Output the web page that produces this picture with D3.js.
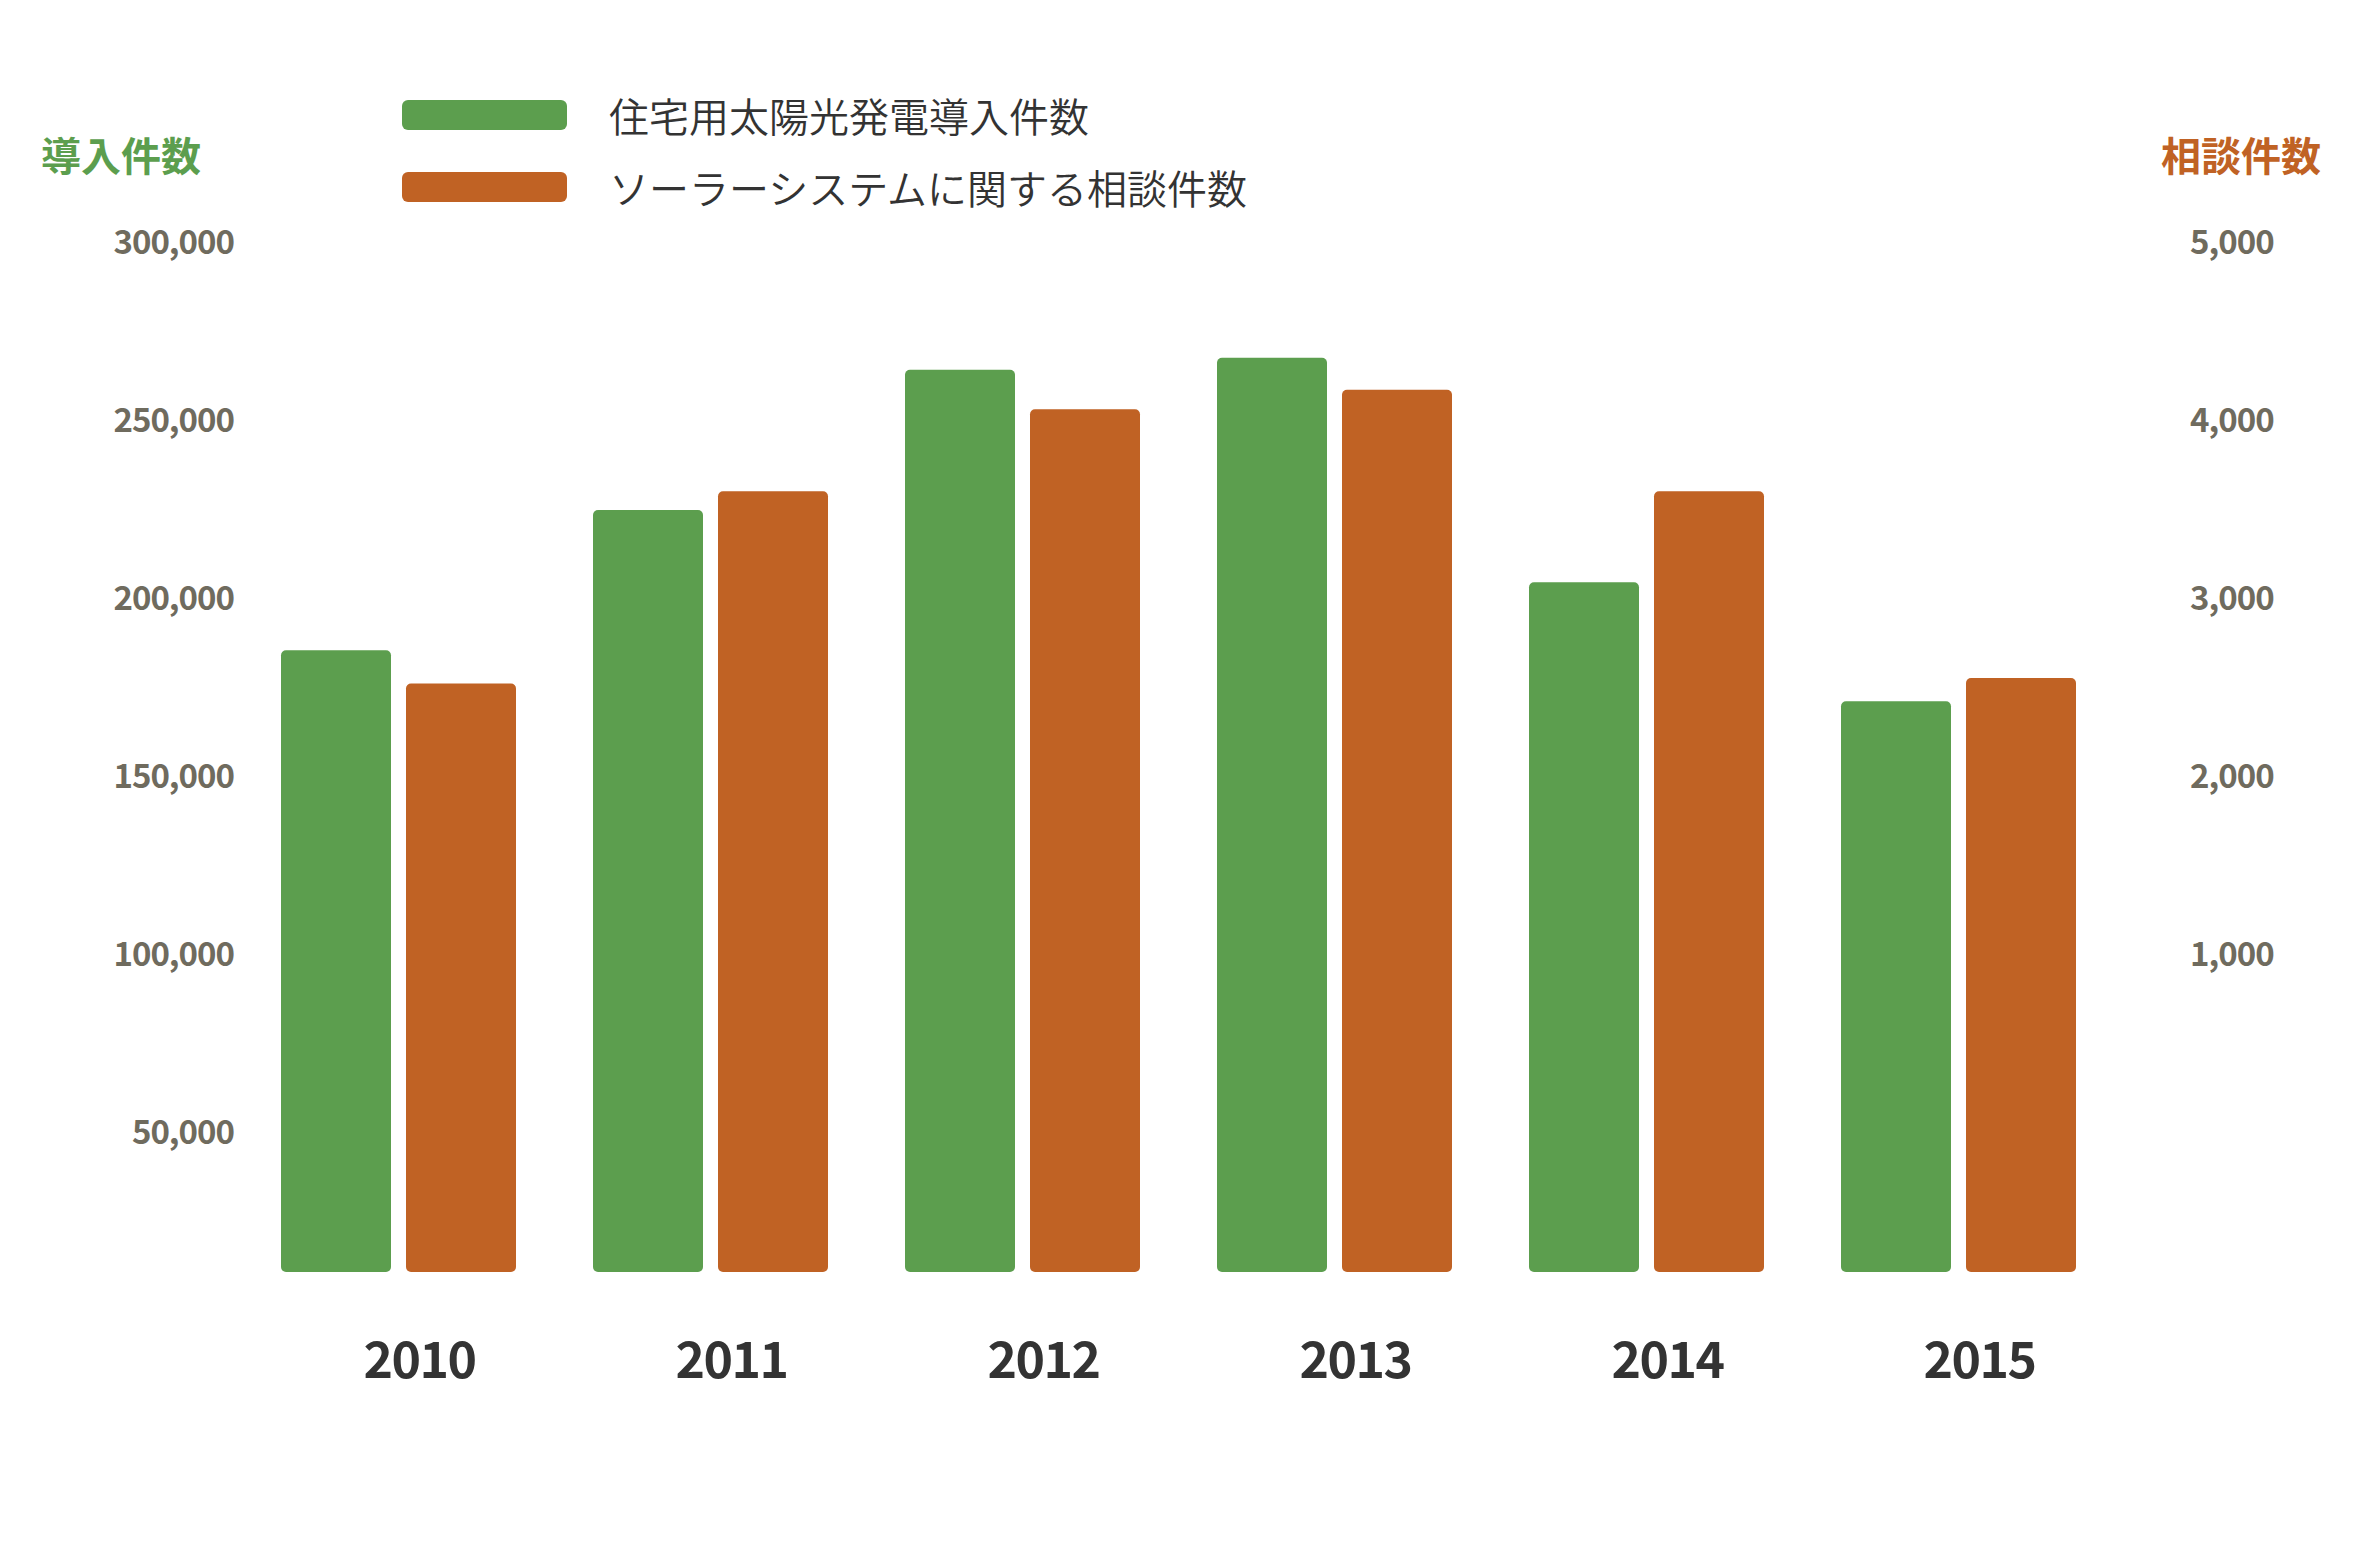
<!DOCTYPE html>
<html>
<head>
<meta charset="utf-8">
<script src="https://cdn.jsdelivr.net/npm/d3@7"></script>
<style>
  html, body { margin: 0; padding: 0; background: #ffffff; }
  svg { display: block; }
</style>
</head>
<body>
<svg id="chart" width="2360" height="1548"></svg>
<script>
// ---- data ----
const years = ["2010", "2011", "2012", "2013", "2014", "2015"];
const installations = [185300, 224700, 264100, 267500, 204400, 171000]; // 住宅用太陽光発電導入件数 (left axis)
const consultations = [2520, 3600, 4060, 4170, 3600, 2550];             // ソーラーシステムに関する相談件数 (right axis)
const leftTicks = [50000, 100000, 150000, 200000, 250000, 300000];
const rightTicks = [1000, 2000, 3000, 4000, 5000];
const seriesNames = ["住宅用太陽光発電導入件数", "ソーラーシステムに関する相談件数"];
const axisTitles = ["導入件数", "相談件数"];

// ---- styles ----
const GREEN = "#5c9e4e";
const ORANGE = "#c06224";
const TICK_COLOR = "#6f6b5e";
const FONT = "'Noto Sans CJK JP', 'Noto Sans', sans-serif";

const svg = d3.select("#chart");
svg.append("rect").attr("width", 2360).attr("height", 1548).attr("fill", "#fff");

// ---- scales ----
const yL = d3.scaleLinear().domain([0, 300000]).range([1310, 242]);
const yR = d3.scaleLinear().domain([0, 5000]).range([1132, 242]);
const xC = d3.scalePoint().domain(years).range([419, 1979]);
const inner = d3.scaleBand().domain([0, 1]).range([0, 235]).paddingInner(0.12).paddingOuter(0);
const groupOffset = -138;
const baseline = 1272;

// ---- bars ----
const bars = svg.append("g");
years.forEach((yr, i) => {
  const gx = xC(yr) + groupOffset;
  const vals = [
    { v: installations[i], y: yL(installations[i]), c: GREEN, k: 0 },
    { v: consultations[i], y: yR(consultations[i]), c: ORANGE, k: 1 }
  ];
  vals.forEach(d => {
    bars.append("rect")
      .attr("x", gx + inner(d.k))
      .attr("y", d.y)
      .attr("width", inner.bandwidth())
      .attr("height", baseline - d.y)
      .attr("rx", 5).attr("ry", 5)
      .attr("fill", d.c);
  });
});

// ---- left axis ----
const fmt = d3.format(",");
const leftAxis = d3.axisLeft(yL).tickValues(leftTicks).tickFormat(fmt).tickSize(0).tickPadding(0);
const gL = svg.append("g").attr("transform", "translate(234,0)").call(leftAxis);
gL.select(".domain").remove();
gL.selectAll("text")
  .attr("fill", TICK_COLOR).attr("font-family", FONT).attr("font-size", 33)
  .attr("font-weight", 700).attr("letter-spacing", "-1px").attr("dy", "0.35em");

// ---- right axis ----
const rightAxis = d3.axisRight(yR).tickValues(rightTicks).tickFormat(fmt).tickSize(0).tickPadding(0);
const gR = svg.append("g").attr("transform", "translate(2190,0)").call(rightAxis);
gR.select(".domain").remove();
gR.selectAll("text")
  .attr("fill", TICK_COLOR).attr("font-family", FONT).attr("font-size", 33)
  .attr("font-weight", 700).attr("letter-spacing", "-1px").attr("dy", "0.35em");

// ---- x labels ----
const xAxis = d3.axisBottom(xC).tickSize(0).tickPadding(0);
const gX = svg.append("g").attr("transform", "translate(0,1360)").call(xAxis);
gX.select(".domain").remove();
gX.selectAll("text")
  .attr("fill", "#333333").attr("font-family", FONT).attr("font-size", 50)
  .attr("font-weight", 700).attr("letter-spacing", "-1.5px").attr("dy", "0.35em");

// ---- axis titles ----
svg.append("text").attr("x", 41).attr("y", 157).attr("dy", "0.36em")
  .attr("font-family", FONT).attr("font-size", 40).attr("font-weight", 700)
  .attr("fill", GREEN).text(axisTitles[0]);
svg.append("text").attr("x", 2321).attr("y", 157).attr("dy", "0.36em")
  .attr("text-anchor", "end")
  .attr("font-family", FONT).attr("font-size", 40).attr("font-weight", 700)
  .attr("fill", ORANGE).text(axisTitles[1]);

// ---- legend ----
const legend = svg.append("g");
const legendColors = [GREEN, ORANGE];
const legendY = [115, 187];
seriesNames.forEach((name, i) => {
  legend.append("rect").attr("x", 402).attr("y", legendY[i] - 15)
    .attr("width", 165).attr("height", 30).attr("rx", 6).attr("ry", 6)
    .attr("fill", legendColors[i]);
  legend.append("text").attr("x", 609).attr("y", legendY[i] + 3).attr("dy", "0.36em")
    .attr("font-family", FONT).attr("font-size", 40).attr("font-weight", 350)
    .attr("fill", "#333333").text(name);
});
</script>
</body>
</html>
